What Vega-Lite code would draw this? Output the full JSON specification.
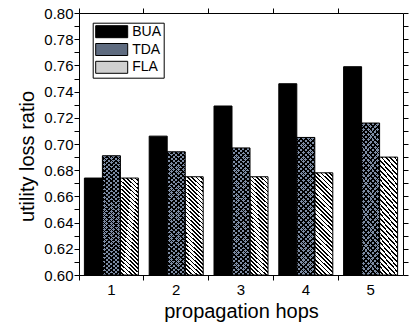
{
"$schema": "https://vega.github.io/schema/vega-lite/v6.json",
"width": 324, "height": 262,
"autosize": {"type": "none"},
"padding": {"left": 79, "top": 13, "right": 11, "bottom": 48},
"data": {"values": [
{"hop":"1","series":"BUA","value":0.674},{"hop":"1","series":"TDA","value":0.691},{"hop":"1","series":"FLA","value":0.674},
{"hop":"2","series":"BUA","value":0.706},{"hop":"2","series":"TDA","value":0.694},{"hop":"2","series":"FLA","value":0.675},
{"hop":"3","series":"BUA","value":0.729},{"hop":"3","series":"TDA","value":0.697},{"hop":"3","series":"FLA","value":0.675},
{"hop":"4","series":"BUA","value":0.746},{"hop":"4","series":"TDA","value":0.705},{"hop":"4","series":"FLA","value":0.678},
{"hop":"5","series":"BUA","value":0.759},{"hop":"5","series":"TDA","value":0.716},{"hop":"5","series":"FLA","value":0.690}
]},
"config": {
"font": "Liberation Sans",
"view": {"stroke": null},
"axis": {"labelFont": "Liberation Sans", "labelFontSize": 15, "labelColor": "#000", "titleFont": "Liberation Sans", "titleFontSize": 20, "titleFontWeight": "normal", "titleColor": "#000", "domainColor": "#000", "domainWidth": 1, "tickColor": "#000", "tickWidth": 1, "grid": false}
},
"resolve": {"axis": {"x": "independent", "y": "independent"}},
"layer": [
{
"mark": {"type": "bar", "strokeWidth": 0},
"encoding": {
"x": {"field": "hop", "type": "ordinal", "scale": {"paddingInner": 0, "paddingOuter": 0},
 "axis": {"orient": "bottom", "title": "propagation hops", "labelAngle": 0, "bandPosition": 0, "tickSize": 5, "labelPadding": 2, "titlePadding": 4,
  "encode": {"ticks": {"update": {"y2": {"value": -5}}}}}},
"xOffset": {"field": "series", "type": "nominal", "scale": {"domain": ["BUA","TDA","FLA"], "paddingInner": 0, "paddingOuter": 0.3}},
"y": {"field": "value", "type": "quantitative", "scale": {"domain": [0.6, 0.8], "zero": false, "nice": false},
 "axis": {"orient": "left", "title": "utility loss ratio", "values": [0.6,0.61,0.62,0.63,0.64,0.65,0.66,0.67,0.68,0.69,0.7,0.71,0.72,0.73,0.74,0.75,0.76,0.77,0.78,0.79,0.8],
  "labelExpr": "round(datum.value*100) % 2 === 0 ? format(datum.value, '.2f') : ''", "labelOverlap": false, "labelFlush": false, "tickSize": 5, "labelPadding": 1, "titlePadding": 6, "titleY": 143,
  "encode": {"ticks": {"update": {"x2": {"signal": "round(datum.value*100) % 2 === 0 ? 5 : 3"}}}}}},
"y2": {"datum": 0.6},
"fill": {"field": "series", "type": "nominal", "scale": {"domain": ["BUA","TDA","FLA"], "range": ["#000000", "#5f6c80", "#d0d0d0"]},
 "legend": {"orient": "none", "legendX": 13.7, "legendY": 9.7, "title": null, "symbolType": "M-1,-1H4.333V1H-1Z", "symbolSize": 144, "labelFont": "Liberation Sans", "labelFontSize": 14, "labelColor": "#000", "labelOffset": 23.5, "rowPadding": 1.8, "padding": 2, "strokeColor": "#000", "fillColor": "#fff", "symbolStrokeColor": "#000", "symbolStrokeWidth": 1, "symbolOpacity": 1}}
}
},
{
"transform": [{"filter": "datum.series === 'FLA'"}],
"mark": {"type": "bar", "strokeWidth": 0, "fill": {"gradient": "linear", "x1": 0, "y1": 1, "x2": 0.195, "y2": -0.138, "stops": [
{"offset":0,"color":"#fff"},{"offset":0.021,"color":"#fff"},{"offset":0.021,"color":"#000"},{"offset":0.035,"color":"#000"},
{"offset":0.035,"color":"#fff"},{"offset":0.056,"color":"#fff"},{"offset":0.056,"color":"#000"},{"offset":0.07,"color":"#000"},
{"offset":0.07,"color":"#fff"},{"offset":0.091,"color":"#fff"},{"offset":0.091,"color":"#000"},{"offset":0.105,"color":"#000"},
{"offset":0.105,"color":"#fff"},{"offset":0.126,"color":"#fff"},{"offset":0.126,"color":"#000"},{"offset":0.14,"color":"#000"},
{"offset":0.14,"color":"#fff"},{"offset":0.161,"color":"#fff"},{"offset":0.161,"color":"#000"},{"offset":0.175,"color":"#000"},
{"offset":0.175,"color":"#fff"},{"offset":0.196,"color":"#fff"},{"offset":0.196,"color":"#000"},{"offset":0.21,"color":"#000"},
{"offset":0.21,"color":"#fff"},{"offset":0.231,"color":"#fff"},{"offset":0.231,"color":"#000"},{"offset":0.245,"color":"#000"},
{"offset":0.245,"color":"#fff"},{"offset":0.266,"color":"#fff"},{"offset":0.266,"color":"#000"},{"offset":0.28,"color":"#000"},
{"offset":0.28,"color":"#fff"},{"offset":0.301,"color":"#fff"},{"offset":0.301,"color":"#000"},{"offset":0.315,"color":"#000"},
{"offset":0.315,"color":"#fff"},{"offset":0.336,"color":"#fff"},{"offset":0.336,"color":"#000"},{"offset":0.35,"color":"#000"},
{"offset":0.35,"color":"#fff"},{"offset":0.371,"color":"#fff"},{"offset":0.371,"color":"#000"},{"offset":0.385,"color":"#000"},
{"offset":0.385,"color":"#fff"},{"offset":0.406,"color":"#fff"},{"offset":0.406,"color":"#000"},{"offset":0.42,"color":"#000"},
{"offset":0.42,"color":"#fff"},{"offset":0.441,"color":"#fff"},{"offset":0.441,"color":"#000"},{"offset":0.455,"color":"#000"},
{"offset":0.455,"color":"#fff"},{"offset":0.476,"color":"#fff"},{"offset":0.476,"color":"#000"},{"offset":0.49,"color":"#000"},
{"offset":0.49,"color":"#fff"},{"offset":0.511,"color":"#fff"},{"offset":0.511,"color":"#000"},{"offset":0.525,"color":"#000"},
{"offset":0.525,"color":"#fff"},{"offset":0.546,"color":"#fff"},{"offset":0.546,"color":"#000"},{"offset":0.56,"color":"#000"},
{"offset":0.56,"color":"#fff"},{"offset":0.581,"color":"#fff"},{"offset":0.581,"color":"#000"},{"offset":0.595,"color":"#000"},
{"offset":0.595,"color":"#fff"},{"offset":0.616,"color":"#fff"},{"offset":0.616,"color":"#000"},{"offset":0.63,"color":"#000"},
{"offset":0.63,"color":"#fff"},{"offset":0.651,"color":"#fff"},{"offset":0.651,"color":"#000"},{"offset":0.665,"color":"#000"},
{"offset":0.665,"color":"#fff"},{"offset":0.686,"color":"#fff"},{"offset":0.686,"color":"#000"},{"offset":0.7,"color":"#000"},
{"offset":0.7,"color":"#fff"},{"offset":0.721,"color":"#fff"},{"offset":0.721,"color":"#000"},{"offset":0.735,"color":"#000"},
{"offset":0.735,"color":"#fff"},{"offset":0.756,"color":"#fff"},{"offset":0.756,"color":"#000"},{"offset":0.77,"color":"#000"},
{"offset":0.77,"color":"#fff"},{"offset":0.791,"color":"#fff"},{"offset":0.791,"color":"#000"},{"offset":0.805,"color":"#000"},
{"offset":0.805,"color":"#fff"},{"offset":0.826,"color":"#fff"},{"offset":0.826,"color":"#000"},{"offset":0.84,"color":"#000"},
{"offset":0.84,"color":"#fff"},{"offset":0.861,"color":"#fff"},{"offset":0.861,"color":"#000"},{"offset":0.875,"color":"#000"},
{"offset":0.875,"color":"#fff"},{"offset":0.896,"color":"#fff"},{"offset":0.896,"color":"#000"},{"offset":0.91,"color":"#000"},
{"offset":0.91,"color":"#fff"},{"offset":0.931,"color":"#fff"},{"offset":0.931,"color":"#000"},{"offset":0.945,"color":"#000"},
{"offset":0.945,"color":"#fff"},{"offset":0.966,"color":"#fff"},{"offset":0.966,"color":"#000"},{"offset":0.98,"color":"#000"},
{"offset":0.98,"color":"#fff"},{"offset":1,"color":"#fff"}]}},
"encoding": {
"x": {"field": "hop", "type": "ordinal", "scale": {"paddingInner": 0, "paddingOuter": 0}, "axis": null},
"xOffset": {"field": "series", "type": "nominal", "scale": {"domain": ["BUA","TDA","FLA"], "paddingInner": 0, "paddingOuter": 0.3}},
"y": {"field": "value", "type": "quantitative", "scale": {"domain": [0.6, 0.8], "zero": false, "nice": false}, "axis": null},
"y2": {"datum": 0.6}
}
},
{
"transform": [{"filter": "datum.series === 'TDA'"}],
"mark": {"type": "bar", "strokeWidth": 0, "fill": "#7d8ca4"},
"encoding": {
"x": {"field": "hop", "type": "ordinal", "scale": {"paddingInner": 0, "paddingOuter": 0}, "axis": null},
"xOffset": {"field": "series", "type": "nominal", "scale": {"domain": ["BUA","TDA","FLA"], "paddingInner": 0, "paddingOuter": 0.3}},
"y": {"field": "value", "type": "quantitative", "scale": {"domain": [0.6, 0.8], "zero": false, "nice": false}, "axis": null},
"y2": {"datum": 0.6}
}
},
{
"transform": [{"filter": "datum.series === 'TDA'"}],
"mark": {"type": "bar", "strokeWidth": 0, "fill": {"gradient": "linear", "x1": 0, "y1": 1, "x2": 0.147, "y2": -0.113, "stops": [
{"offset":0,"color":"#000"},{"offset":0.01,"color":"#000"},{"offset":0.01,"color":"transparent"},{"offset":0.03,"color":"transparent"},
{"offset":0.03,"color":"#000"},{"offset":0.04,"color":"#000"},{"offset":0.04,"color":"transparent"},{"offset":0.06,"color":"transparent"},
{"offset":0.06,"color":"#000"},{"offset":0.07,"color":"#000"},{"offset":0.07,"color":"transparent"},{"offset":0.09,"color":"transparent"},
{"offset":0.09,"color":"#000"},{"offset":0.1,"color":"#000"},{"offset":0.1,"color":"transparent"},{"offset":0.12,"color":"transparent"},
{"offset":0.12,"color":"#000"},{"offset":0.13,"color":"#000"},{"offset":0.13,"color":"transparent"},{"offset":0.15,"color":"transparent"},
{"offset":0.15,"color":"#000"},{"offset":0.16,"color":"#000"},{"offset":0.16,"color":"transparent"},{"offset":0.18,"color":"transparent"},
{"offset":0.18,"color":"#000"},{"offset":0.19,"color":"#000"},{"offset":0.19,"color":"transparent"},{"offset":0.21,"color":"transparent"},
{"offset":0.21,"color":"#000"},{"offset":0.22,"color":"#000"},{"offset":0.22,"color":"transparent"},{"offset":0.24,"color":"transparent"},
{"offset":0.24,"color":"#000"},{"offset":0.25,"color":"#000"},{"offset":0.25,"color":"transparent"},{"offset":0.27,"color":"transparent"},
{"offset":0.27,"color":"#000"},{"offset":0.28,"color":"#000"},{"offset":0.28,"color":"transparent"},{"offset":0.3,"color":"transparent"},
{"offset":0.3,"color":"#000"},{"offset":0.31,"color":"#000"},{"offset":0.31,"color":"transparent"},{"offset":0.33,"color":"transparent"},
{"offset":0.33,"color":"#000"},{"offset":0.34,"color":"#000"},{"offset":0.34,"color":"transparent"},{"offset":0.36,"color":"transparent"},
{"offset":0.36,"color":"#000"},{"offset":0.37,"color":"#000"},{"offset":0.37,"color":"transparent"},{"offset":0.39,"color":"transparent"},
{"offset":0.39,"color":"#000"},{"offset":0.4,"color":"#000"},{"offset":0.4,"color":"transparent"},{"offset":0.42,"color":"transparent"},
{"offset":0.42,"color":"#000"},{"offset":0.43,"color":"#000"},{"offset":0.43,"color":"transparent"},{"offset":0.45,"color":"transparent"},
{"offset":0.45,"color":"#000"},{"offset":0.46,"color":"#000"},{"offset":0.46,"color":"transparent"},{"offset":0.48,"color":"transparent"},
{"offset":0.48,"color":"#000"},{"offset":0.49,"color":"#000"},{"offset":0.49,"color":"transparent"},{"offset":0.51,"color":"transparent"},
{"offset":0.51,"color":"#000"},{"offset":0.52,"color":"#000"},{"offset":0.52,"color":"transparent"},{"offset":0.54,"color":"transparent"},
{"offset":0.54,"color":"#000"},{"offset":0.55,"color":"#000"},{"offset":0.55,"color":"transparent"},{"offset":0.57,"color":"transparent"},
{"offset":0.57,"color":"#000"},{"offset":0.58,"color":"#000"},{"offset":0.58,"color":"transparent"},{"offset":0.6,"color":"transparent"},
{"offset":0.6,"color":"#000"},{"offset":0.61,"color":"#000"},{"offset":0.61,"color":"transparent"},{"offset":0.63,"color":"transparent"},
{"offset":0.63,"color":"#000"},{"offset":0.64,"color":"#000"},{"offset":0.64,"color":"transparent"},{"offset":0.66,"color":"transparent"},
{"offset":0.66,"color":"#000"},{"offset":0.67,"color":"#000"},{"offset":0.67,"color":"transparent"},{"offset":0.69,"color":"transparent"},
{"offset":0.69,"color":"#000"},{"offset":0.7,"color":"#000"},{"offset":0.7,"color":"transparent"},{"offset":0.72,"color":"transparent"},
{"offset":0.72,"color":"#000"},{"offset":0.73,"color":"#000"},{"offset":0.73,"color":"transparent"},{"offset":0.75,"color":"transparent"},
{"offset":0.75,"color":"#000"},{"offset":0.76,"color":"#000"},{"offset":0.76,"color":"transparent"},{"offset":0.78,"color":"transparent"},
{"offset":0.78,"color":"#000"},{"offset":0.79,"color":"#000"},{"offset":0.79,"color":"transparent"},{"offset":0.81,"color":"transparent"},
{"offset":0.81,"color":"#000"},{"offset":0.82,"color":"#000"},{"offset":0.82,"color":"transparent"},{"offset":0.84,"color":"transparent"},
{"offset":0.84,"color":"#000"},{"offset":0.85,"color":"#000"},{"offset":0.85,"color":"transparent"},{"offset":0.87,"color":"transparent"},
{"offset":0.87,"color":"#000"},{"offset":0.88,"color":"#000"},{"offset":0.88,"color":"transparent"},{"offset":0.9,"color":"transparent"},
{"offset":0.9,"color":"#000"},{"offset":0.91,"color":"#000"},{"offset":0.91,"color":"transparent"},{"offset":0.93,"color":"transparent"},
{"offset":0.93,"color":"#000"},{"offset":0.94,"color":"#000"},{"offset":0.94,"color":"transparent"},{"offset":0.96,"color":"transparent"},
{"offset":0.96,"color":"#000"},{"offset":0.97,"color":"#000"},{"offset":0.97,"color":"transparent"},{"offset":0.99,"color":"transparent"},
{"offset":0.99,"color":"#000"},{"offset":1,"color":"#000"}]}},
"encoding": {
"x": {"field": "hop", "type": "ordinal", "scale": {"paddingInner": 0, "paddingOuter": 0}, "axis": null},
"xOffset": {"field": "series", "type": "nominal", "scale": {"domain": ["BUA","TDA","FLA"], "paddingInner": 0, "paddingOuter": 0.3}},
"y": {"field": "value", "type": "quantitative", "scale": {"domain": [0.6, 0.8], "zero": false, "nice": false}, "axis": null},
"y2": {"datum": 0.6}
}
},
{
"transform": [{"filter": "datum.series === 'TDA'"}],
"mark": {"type": "bar", "strokeWidth": 0, "fill": {"gradient": "linear", "x1": 0, "y1": 0, "x2": 0.147, "y2": 1.113, "stops": [
{"offset":0,"color":"#000"},{"offset":0.01,"color":"#000"},{"offset":0.01,"color":"transparent"},{"offset":0.03,"color":"transparent"},
{"offset":0.03,"color":"#000"},{"offset":0.04,"color":"#000"},{"offset":0.04,"color":"transparent"},{"offset":0.06,"color":"transparent"},
{"offset":0.06,"color":"#000"},{"offset":0.07,"color":"#000"},{"offset":0.07,"color":"transparent"},{"offset":0.09,"color":"transparent"},
{"offset":0.09,"color":"#000"},{"offset":0.1,"color":"#000"},{"offset":0.1,"color":"transparent"},{"offset":0.12,"color":"transparent"},
{"offset":0.12,"color":"#000"},{"offset":0.13,"color":"#000"},{"offset":0.13,"color":"transparent"},{"offset":0.15,"color":"transparent"},
{"offset":0.15,"color":"#000"},{"offset":0.16,"color":"#000"},{"offset":0.16,"color":"transparent"},{"offset":0.18,"color":"transparent"},
{"offset":0.18,"color":"#000"},{"offset":0.19,"color":"#000"},{"offset":0.19,"color":"transparent"},{"offset":0.21,"color":"transparent"},
{"offset":0.21,"color":"#000"},{"offset":0.22,"color":"#000"},{"offset":0.22,"color":"transparent"},{"offset":0.24,"color":"transparent"},
{"offset":0.24,"color":"#000"},{"offset":0.25,"color":"#000"},{"offset":0.25,"color":"transparent"},{"offset":0.27,"color":"transparent"},
{"offset":0.27,"color":"#000"},{"offset":0.28,"color":"#000"},{"offset":0.28,"color":"transparent"},{"offset":0.3,"color":"transparent"},
{"offset":0.3,"color":"#000"},{"offset":0.31,"color":"#000"},{"offset":0.31,"color":"transparent"},{"offset":0.33,"color":"transparent"},
{"offset":0.33,"color":"#000"},{"offset":0.34,"color":"#000"},{"offset":0.34,"color":"transparent"},{"offset":0.36,"color":"transparent"},
{"offset":0.36,"color":"#000"},{"offset":0.37,"color":"#000"},{"offset":0.37,"color":"transparent"},{"offset":0.39,"color":"transparent"},
{"offset":0.39,"color":"#000"},{"offset":0.4,"color":"#000"},{"offset":0.4,"color":"transparent"},{"offset":0.42,"color":"transparent"},
{"offset":0.42,"color":"#000"},{"offset":0.43,"color":"#000"},{"offset":0.43,"color":"transparent"},{"offset":0.45,"color":"transparent"},
{"offset":0.45,"color":"#000"},{"offset":0.46,"color":"#000"},{"offset":0.46,"color":"transparent"},{"offset":0.48,"color":"transparent"},
{"offset":0.48,"color":"#000"},{"offset":0.49,"color":"#000"},{"offset":0.49,"color":"transparent"},{"offset":0.51,"color":"transparent"},
{"offset":0.51,"color":"#000"},{"offset":0.52,"color":"#000"},{"offset":0.52,"color":"transparent"},{"offset":0.54,"color":"transparent"},
{"offset":0.54,"color":"#000"},{"offset":0.55,"color":"#000"},{"offset":0.55,"color":"transparent"},{"offset":0.57,"color":"transparent"},
{"offset":0.57,"color":"#000"},{"offset":0.58,"color":"#000"},{"offset":0.58,"color":"transparent"},{"offset":0.6,"color":"transparent"},
{"offset":0.6,"color":"#000"},{"offset":0.61,"color":"#000"},{"offset":0.61,"color":"transparent"},{"offset":0.63,"color":"transparent"},
{"offset":0.63,"color":"#000"},{"offset":0.64,"color":"#000"},{"offset":0.64,"color":"transparent"},{"offset":0.66,"color":"transparent"},
{"offset":0.66,"color":"#000"},{"offset":0.67,"color":"#000"},{"offset":0.67,"color":"transparent"},{"offset":0.69,"color":"transparent"},
{"offset":0.69,"color":"#000"},{"offset":0.7,"color":"#000"},{"offset":0.7,"color":"transparent"},{"offset":0.72,"color":"transparent"},
{"offset":0.72,"color":"#000"},{"offset":0.73,"color":"#000"},{"offset":0.73,"color":"transparent"},{"offset":0.75,"color":"transparent"},
{"offset":0.75,"color":"#000"},{"offset":0.76,"color":"#000"},{"offset":0.76,"color":"transparent"},{"offset":0.78,"color":"transparent"},
{"offset":0.78,"color":"#000"},{"offset":0.79,"color":"#000"},{"offset":0.79,"color":"transparent"},{"offset":0.81,"color":"transparent"},
{"offset":0.81,"color":"#000"},{"offset":0.82,"color":"#000"},{"offset":0.82,"color":"transparent"},{"offset":0.84,"color":"transparent"},
{"offset":0.84,"color":"#000"},{"offset":0.85,"color":"#000"},{"offset":0.85,"color":"transparent"},{"offset":0.87,"color":"transparent"},
{"offset":0.87,"color":"#000"},{"offset":0.88,"color":"#000"},{"offset":0.88,"color":"transparent"},{"offset":0.9,"color":"transparent"},
{"offset":0.9,"color":"#000"},{"offset":0.91,"color":"#000"},{"offset":0.91,"color":"transparent"},{"offset":0.93,"color":"transparent"},
{"offset":0.93,"color":"#000"},{"offset":0.94,"color":"#000"},{"offset":0.94,"color":"transparent"},{"offset":0.96,"color":"transparent"},
{"offset":0.96,"color":"#000"},{"offset":0.97,"color":"#000"},{"offset":0.97,"color":"transparent"},{"offset":0.99,"color":"transparent"},
{"offset":0.99,"color":"#000"},{"offset":1,"color":"#000"}]}},
"encoding": {
"x": {"field": "hop", "type": "ordinal", "scale": {"paddingInner": 0, "paddingOuter": 0}, "axis": null},
"xOffset": {"field": "series", "type": "nominal", "scale": {"domain": ["BUA","TDA","FLA"], "paddingInner": 0, "paddingOuter": 0.3}},
"y": {"field": "value", "type": "quantitative", "scale": {"domain": [0.6, 0.8], "zero": false, "nice": false}, "axis": null},
"y2": {"datum": 0.6}
}
},
{
"mark": {"type": "bar", "fill": "transparent", "stroke": "#000", "strokeWidth": 1},
"encoding": {
"x": {"field": "hop", "type": "ordinal", "scale": {"paddingInner": 0, "paddingOuter": 0},
 "axis": {"orient": "top", "title": null, "labels": false, "bandPosition": 0, "tickSize": 5, "encode": {"ticks": {"update": {"y2": {"value": 5}}}}}},
"xOffset": {"field": "series", "type": "nominal", "scale": {"domain": ["BUA","TDA","FLA"], "paddingInner": 0, "paddingOuter": 0.3}},
"y": {"field": "value", "type": "quantitative", "scale": {"domain": [0.6, 0.8], "zero": false, "nice": false},
 "axis": {"orient": "right", "title": null, "labels": false, "values": [0.6,0.61,0.62,0.63,0.64,0.65,0.66,0.67,0.68,0.69,0.7,0.71,0.72,0.73,0.74,0.75,0.76,0.77,0.78,0.79,0.8], "tickSize": 5,
  "encode": {"ticks": {"update": {"x2": {"signal": "round(datum.value*100) % 2 === 0 ? -5 : -3"}}}}}},
"y2": {"datum": 0.6}
}
}
]
}
